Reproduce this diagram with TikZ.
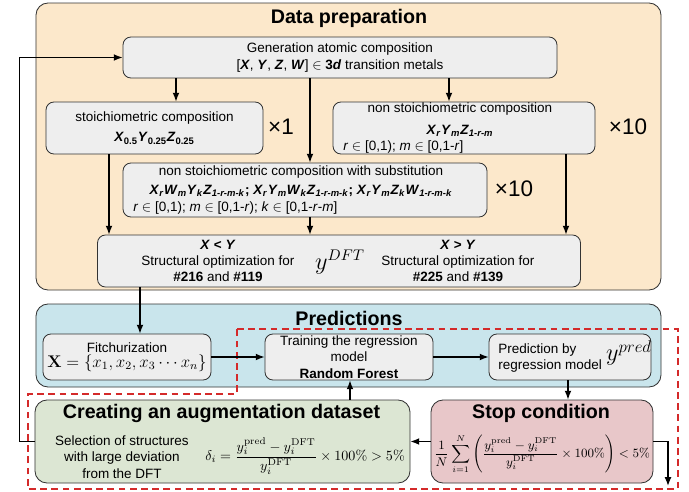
\documentclass[tikz,border=0pt]{standalone}
\usepackage{amsmath}
\usepackage[no-math]{fontspec}
\setmainfont{Liberation Sans}
\usetikzlibrary{arrows.meta}

\definecolor{prepfill}{HTML}{FCE8CB}
\definecolor{predfill}{HTML}{C9E5EC}
\definecolor{augfill}{HTML}{DCE6D3}
\definecolor{stopfill}{HTML}{E8C7C9}
\definecolor{cellfill}{HTML}{EEEEEE}
\definecolor{edge}{HTML}{333333}
\definecolor{loopred}{HTML}{D42A2A}

% bold italic element symbols and their subscripts
\newcommand\bi[1]{\textbf{\textit{#1}}}
\newcommand\sbs[1]{\textsubscript{\bi{#1}}}
\newcommand\bodyfont{\fontsize{9.6}{11.5}\selectfont}

\tikzset{
  panel/.style={draw=edge, line width=0.6pt, rounded corners=3mm, inner sep=0pt},
  cell/.style={draw=edge, line width=0.6pt, fill=cellfill, rounded corners=2mm,
    inner sep=0pt, align=center, font=\bodyfont},
  title/.style={font=\fontsize{14}{16}\selectfont\bfseries, inner sep=0pt},
  txt/.style={font=\bodyfont, inner sep=0pt, align=center},
  times/.style={font=\fontsize{16}{18}\selectfont, inner sep=0pt},
  arr/.style={line width=0.9pt, -{Latex[length=2.2mm,width=1.7mm]}},
  loop/.style={draw=loopred, line width=1.1pt, dash pattern=on 1.7mm off 1.1mm}
}

\begin{document}
\begin{tikzpicture}[x=0.25mm, y=-0.25mm]
\useasboundingbox (0,0) rectangle (689,491);

% ---------- panels ----------
\node[panel, fill=prepfill, minimum width=156.25mm, minimum height=71.75mm] (prep) at (348.5,146.5) {};
\node[panel, fill=predfill, minimum width=156.25mm, minimum height=20.75mm] (predp) at (348.5,345.5) {};
\node[panel, fill=augfill, minimum width=93.75mm, minimum height=20.75mm] (aug) at (222.5,441.5) {};
\node[panel, fill=stopfill, minimum width=55.5mm, minimum height=20.75mm] (stop) at (542,441.5) {};

\node[title] (preptitle) at (349,18) {Data preparation};
\node[title] (predtitle) at (349,318) {Predictions};
\node[title] (augtitle) at (221.5,413) {Creating an augmentation dataset};
\node[title] (stoptitle) at (541,413) {Stop condition};

% ---------- data preparation ----------
\node[cell, minimum width=108.5mm, minimum height=10.25mm] (gen) at (340,57.5)
  {Generation atomic composition\\{}%
   [\bi{X}, \bi{Y}, \bi{Z}, \bi{W}] $\in$ \textbf{3\textit{d}} transition metals};

\node[cell, minimum width=54.25mm, minimum height=13mm] (sto) at (154.5,128)
  {stoichiometric composition\\[3pt]
   \bi{X}\textsubscript{\textbf{0.5}}\bi{Y}\textsubscript{\textbf{0.25}}\bi{Z}\textsubscript{\textbf{0.25}}};

\node[cell, minimum width=65.5mm, minimum height=13mm] (non) at (464,128) {};
\node[txt] (nonhead) at (460,109) {non stoichiometric composition};
\node[txt] (nonform) at (460,131) {\bi{X}\sbs{r}\bi{Y}\sbs{m}\bi{Z}\sbs{1-r-m}};
\node[txt, anchor=west] (nonrange) at (343,147) {\textit{r} $\in$ [0,1); \textit{m} $\in$ [0,1-\textit{r}]};

\node[cell, minimum width=91mm, minimum height=13.5mm] (sub) at (305,190) {};
\node[txt] (subhead) at (301,172) {non stoichiometric composition with substitution};
\node[txt] (subform) at (301,191)
  {\bi{X}\sbs{r}\bi{W}\sbs{m}\bi{Y}\sbs{k}\bi{Z}\sbs{1-r-m-k}\textbf{;}
   \bi{X}\sbs{r}\bi{Y}\sbs{m}\bi{W}\sbs{k}\bi{Z}\sbs{1-r-m-k}\textbf{;}
   \bi{X}\sbs{r}\bi{Y}\sbs{m}\bi{Z}\sbs{k}\bi{W}\sbs{1-r-m-k}};
\node[txt, anchor=west] (subrange) at (133,208)
  {\textit{r} $\in$ [0,1); \textit{m} $\in$ [0,1-\textit{r}); \textit{k} $\in$ [0,1-\textit{r}-\textit{m}]};

\node[times] (t1) at (281,127) {×1};
\node[times] (t2) at (628,127) {×10};
\node[times] (t3) at (514,189) {×10};

\node[cell, minimum width=120.75mm, minimum height=13mm] (opt) at (339,261) {};
\node[txt] (optl) at (218,261)
  {\bi{X} \textbf{<} \bi{Y}\\Structural optimization for\\\textbf{\#216} and \textbf{\#119}};
\node[txt] (optr) at (458,261)
  {\bi{X} \textbf{>} \bi{Y}\\Structural optimization for\\\textbf{\#225} and \textbf{\#139}};
\node[inner sep=0pt, font=\fontsize{16}{18}\selectfont] (ydft) at (340,262) {$y^{DFT}$};

% ---------- predictions ----------
\node[cell, minimum width=42mm, minimum height=11.5mm] (fit) at (127,357)
  {Fitchurization\\[-1pt]
   {\fontsize{12}{13}\selectfont$\mathbf{X}=\{x_1,x_2,x_3\cdots x_n\}$}};
\node[cell, minimum width=42mm, minimum height=11.5mm] (train) at (349,357)
  {Training the regression\\model\\\textbf{Random Forest}};
\node[cell, minimum width=40.5mm, minimum height=11.5mm] (pbox) at (570,357) {};
\node[txt, align=left, anchor=west] (ptext) at (498,358) {Prediction by\\regression model};
\node[inner sep=0pt, font=\fontsize{18}{20}\selectfont] (ypred) at (629,353) {$y^{pred}$};

% ---------- augmentation and stop ----------
\node[txt] (augtext) at (122,457)
  {Selection of structures\\with large deviation\\from the DFT};
\node[inner sep=0pt, font=\fontsize{10}{12}\selectfont] (augform) at (305,456)
  {$\delta_i=\dfrac{y_i^{\mathrm{pred}}-y_i^{\mathrm{DFT}}}{y_i^{\mathrm{DFT}}}\times 100\%>5\%$};
\node[inner sep=0pt, font=\fontsize{9}{11}\selectfont] (stopform) at (542,454)
  {$\dfrac{1}{N}\displaystyle\sum_{i=1}^{N}\left(\dfrac{y_i^{\mathrm{pred}}-y_i^{\mathrm{DFT}}}{y_i^{\mathrm{DFT}}}\times 100\%\right)<5\%$};

% ---------- active-learning loop outline ----------
\draw[loop] (237,329) -- (678,329) -- (678,489) -- (28,489) -- (28,394) -- (237,394) -- cycle;

% ---------- connectors ----------
\draw[arr] (176,0 |- gen.south) -- (176,0 |- sto.north);
\draw[arr] (310,0 |- gen.south) -- (310,0 |- sub.north);
\draw[arr] (449,0 |- gen.south) -- (449,0 |- non.north);
\draw[arr] (109,0 |- sto.south) -- (109,0 |- opt.north);
\draw[arr] (310,0 |- sub.south) -- (310,0 |- opt.north);
\draw[arr] (566,0 |- non.south) -- (566,0 |- opt.north);
\draw[arr] (140,0 |- opt.south) -- (140,0 |- fit.north);
\draw[arr] (fit.east) -- (train.west);
\draw[arr] (train.east) -- (pbox.west);
\draw[arr] (568,0 |- pbox.south) -- (568,0 |- stop.north);
\draw[arr] (stop.west) -- (aug.east);
\draw[arr] (350,0 |- aug.north) -- (350,0 |- train.south);
\coordinate (stopout) at (668,486);
\draw[arr] (stop.east) -| (stopout);
\draw[arr] (aug.west) -- ++(-15,0) |- (gen.west);
\end{tikzpicture}
\end{document}
